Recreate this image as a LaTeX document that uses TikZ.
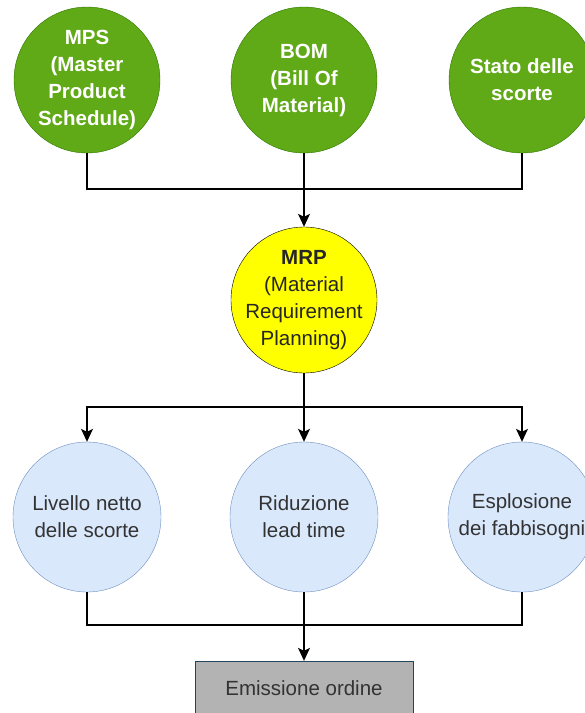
\documentclass[tikz,border=0pt]{standalone}
\usepackage{fontspec}
\setmainfont{Liberation Sans}
\usetikzlibrary{arrows.meta,shapes.geometric}

\definecolor{inputfill}{HTML}{60A917}
\definecolor{inputline}{HTML}{2D7600}
\definecolor{mrpfill}{HTML}{FFFF00}
\definecolor{actfill}{HTML}{DAE8FC}
\definecolor{actline}{HTML}{6C8EBF}
\definecolor{outfill}{HTML}{B3B3B3}
\definecolor{outline}{HTML}{23445D}
\definecolor{txt}{HTML}{333333}

\tikzset{
    txtfont/.style={font=\fontsize{20.5}{27}\selectfont, align=center},
    inputtxt/.style={txtfont, text=white, font=\fontsize{20.5}{27}\selectfont\bfseries},
    mrptxt/.style={txtfont, text=black!85},
    acttxt/.style={txtfont, text=txt},
    inputcirc/.style={circle, draw=inputline, fill=inputfill, minimum size=146pt, inner sep=0pt},
    mrpcirc/.style={circle, draw=black, fill=mrpfill, minimum size=146pt, inner sep=0pt},
    actcirc/.style={ellipse, draw=actline, fill=actfill, minimum width=148pt, minimum height=150pt, inner sep=0pt},
    outbox/.style={rectangle, draw=outline, fill=outfill, minimum width=218pt, minimum height=54pt, txtfont, text=txt},
    conn/.style={draw=black, line width=1.2pt},
    arr/.style={conn, -{Stealth[length=13pt,width=12pt,inset=3pt]}}
}

\begin{document}
\begin{tikzpicture}[x=1pt,y=-1pt]
    \useasboundingbox (0,0) rectangle (585,713);

    % inputs
    \node[inputcirc, label={[inputtxt]center:MPS\\(Master\\Product\\Schedule)}] (mps) at (87,80) {};
    \node[inputcirc, label={[inputtxt]center:BOM\\(Bill Of\\Material)}] (bom) at (304,80) {};
    \node[inputcirc, label={[inputtxt]center:Stato delle\\scorte}] (stato) at (522,80) {};

    \node[mrpcirc, label={[mrptxt]center:\textbf{MRP}\\(Material\\Requirement\\Planning)}] (mrp) at (304,300) {};

    \node[actcirc, label={[acttxt]center:Livello netto\\delle scorte}] (livello) at (87,517) {};
    \node[actcirc, label={[acttxt]center:Riduzione\\lead time}] (riduzione) at (304,517) {};
    \node[actcirc, label={[acttxt]center:Esplosione\\dei fabbisogni}] (esplosione) at (522,517) {};

    \node[outbox] (emissione) at (304,688) {Emissione ordine};

    \coordinate (j1) at (304,189);
    \coordinate (j2) at (304,407);
    \coordinate (j3) at (304,625);

    \draw[conn] (mps.south) |- (j1);
    \draw[conn] (stato.south) |- (j1);
    \draw[arr] (bom.south) -- (mrp.north);

    \draw[conn] (mrp.south) -- (j2);
    \draw[arr] (j2) -| (livello.north);
    \draw[arr] (j2) -| (esplosione.north);
    \draw[arr] (j2) -- (riduzione.north);

    \draw[conn] (livello.south) |- (j3);
    \draw[conn] (esplosione.south) |- (j3);
    \draw[arr] (riduzione.south) -- (emissione.north);
\end{tikzpicture}
\end{document}
